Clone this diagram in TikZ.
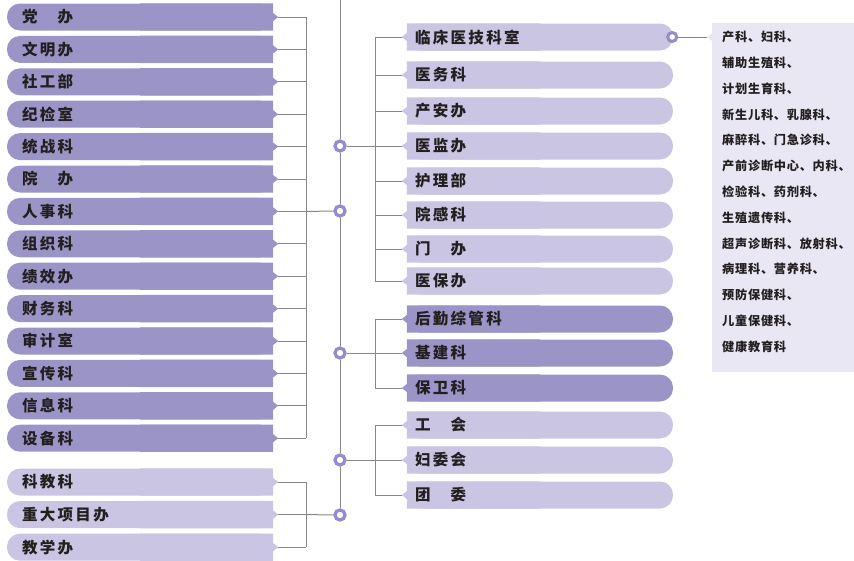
\documentclass[tikz,border=0pt]{standalone}
\usepackage{fontspec}
\newfontfamily\boxfont{Noto Sans CJK SC}[LetterSpace=15]
\newfontfamily\listfont{Noto Sans CJK SC}[LetterSpace=6]
\definecolor{deep}{RGB}{155,149,199}
\definecolor{pale}{RGB}{201,197,226}
\definecolor{mist}{RGB}{233,231,243}
\definecolor{ring}{RGB}{150,140,205}
\definecolor{wire}{RGB}{135,135,135}
\definecolor{ink}{RGB}{35,31,32}
\usetikzlibrary{backgrounds}

\begin{document}
\begin{tikzpicture}[x=1pt, y=-1pt,
	lbox/.style={fill=#1, rounded corners=13pt, text width=236pt, inner xsep=15pt, inner ysep=0pt, minimum height=27pt, align=left, text=ink, font=\boxfont\bfseries\fontsize{15.5}{18}\selectfont},
	rbox/.style={lbox=#1, text width=250pt, inner xsep=8pt},
	hub/.style={circle, draw=ring, line width=3.3pt, fill=white, inner sep=0pt, minimum size=10pt},
	link/.style={draw=wire, line width=1pt}]
	\useasboundingbox (0,0) rectangle (854,560);
	% left column
	\foreach \t [count=\i] in {党　办,文明办,社工部,纪检室,统战科,院　办,人事科,组织科,绩效办,财务科,审计室,宣传科,信息科,设备科}
		\node[lbox=deep] (l\i) at (140,{17+32.4*(\i-1)}) {\t};
	\foreach \t [count=\i] in {科教科,重大项目办,教学办}
		\node[lbox=pale] (m\i) at (140,{482+32.6*(\i-1)}) {\t};
	% right column
	\foreach \t/\y [count=\i] in {临床医技科室/37,医务科/75,产安办/111,医监办/146,护理部/181,院感科/215,门　办/249,医保办/281}
		\node[rbox=pale] (r\i) at (540,\y) {\t};
	\foreach \t/\y [count=\i] in {后勤综管科/319,基建科/353,保卫科/388}
		\node[rbox=deep] (s\i) at (540,\y) {\t};
	\foreach \t/\y [count=\i] in {工　会/425,妇委会/460,团　委/495}
		\node[rbox=pale] (t\i) at (540,\y) {\t};
	% list of departments
	\node[fill=mist, minimum width=142pt, minimum height=349pt, inner sep=0pt, anchor=north west] (kbox) at (712,23) {};
	\node[anchor=north west, inner sep=0pt, text width=135pt, align=left, text=ink, font=\listfont\bfseries\fontsize{12.2}{25.8}\selectfont] (klist) at (722,31)
		{产科、妇科、\\辅助生殖科、\\计划生育科、\\新生儿科、乳腺科、\\麻醉科、门急诊科、\\产前诊断中心、内科、\\检验科、药剂科、\\生殖遗传科、\\超声诊断科、放射科、\\病理科、营养科、\\预防保健科、\\儿童保健科、\\健康教育科};
	\coordinate (kin) at (kbox.west |- r1);
	% square ends and tips
	\begin{scope}[on background layer]
		\foreach \i in {1,...,14}
			\fill[deep] (l\i.north) rectangle (l\i.south east) ([yshift=4pt]l\i.east) -- ++(5pt,-4pt) -- ++(-5pt,-4pt) -- cycle;
		\foreach \i in {1,2,3}
			\fill[pale] (m\i.north) rectangle (m\i.south east) ([yshift=4pt]m\i.east) -- ++(5pt,-4pt) -- ++(-5pt,-4pt) -- cycle;
		\foreach \i in {1,...,8}
			\fill[pale] (r\i.north west) rectangle (r\i.south) ([yshift=4pt]r\i.west) -- ++(-5pt,-4pt) -- ++(5pt,-4pt) -- cycle;
		\foreach \i in {1,2,3} {
			\fill[deep] (s\i.north west) rectangle (s\i.south) ([yshift=4pt]s\i.west) -- ++(-5pt,-4pt) -- ++(5pt,-4pt) -- cycle;
			\fill[pale] (t\i.north west) rectangle (t\i.south) ([yshift=4pt]t\i.west) -- ++(-5pt,-4pt) -- ++(5pt,-4pt) -- cycle;
		}
		\fill[mist] ([yshift=4pt]kin) -- ++(-5pt,-4pt) -- ++(5pt,-4pt) -- cycle;
	\end{scope}
	% hubs
	\node[hub] (h1) at (340,146) {};
	\node[hub] (h2) at (340,211) {};
	\node[hub] (h3) at (340,353) {};
	\node[hub] (h4) at (340,460) {};
	\node[hub] (h5) at (340,515) {};
	\node[hub, minimum size=9pt, line width=3pt] (h0) at ([xshift=-1pt]r1.east) {};
	% connectors
	\coordinate (top) at (340,0);
	\coordinate (lbus) at (306,0);
	\coordinate (rbus) at (375,0);
	\draw[link] (top) -- (h1) -- (h2) -- (h3) -- (h4) -- (h5);
	\draw[link] (lbus |- l1) -- (lbus |- l14) (lbus |- m1) -- (lbus |- m3);
	\foreach \i in {1,...,14} \draw[link] ([xshift=5pt]l\i.east) -- (lbus |- l\i);
	\foreach \i in {1,2,3} \draw[link] ([xshift=5pt]m\i.east) -- (lbus |- m\i);
	\draw[link] (lbus |- l7) -- (h2);
	\draw[link] (lbus |- m2) -- (h5);
	\draw[link] (rbus |- r1) -- (rbus |- r8) (rbus |- s1) -- (rbus |- s3) (rbus |- t1) -- (rbus |- t3);
	\foreach \i in {1,...,8} \draw[link] (rbus |- r\i) -- ([xshift=-5pt]r\i.west);
	\foreach \i in {1,2,3} \draw[link] (rbus |- s\i) -- ([xshift=-5pt]s\i.west) (rbus |- t\i) -- ([xshift=-5pt]t\i.west);
	\draw[link] (h1) -- ([xshift=-5pt]r4.west);
	\draw[link] (h3) -- ([xshift=-5pt]s2.west);
	\draw[link] (h4) -- ([xshift=-5pt]t2.west);
	\draw[link] (h0) -- ([xshift=-5pt]kin);
\end{tikzpicture}
\end{document}
